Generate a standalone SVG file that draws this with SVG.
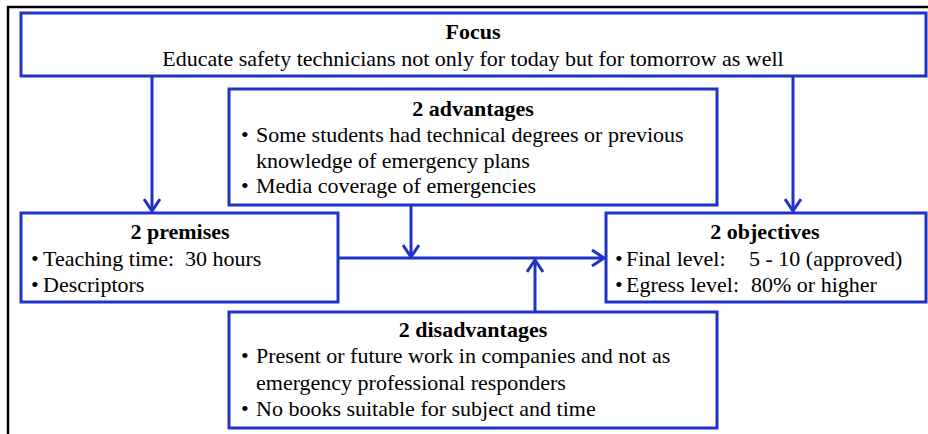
<svg xmlns="http://www.w3.org/2000/svg" width="928" height="434" viewBox="0 0 928 434">
  <style>
    .box { fill: #ffffff; stroke: #1f33c9; stroke-width: 3; }
    .conn { fill: none; stroke: #1f33c9; stroke-width: 3; }
    text { font-family: "Liberation Serif", "Times New Roman", serif; font-size: 22px; fill: #000000; }
    .title { font-weight: bold; text-anchor: middle; }
    .center { text-anchor: middle; }
  </style>
  <defs>
    <marker id="arrow" viewBox="0 0 14 18" refX="13" refY="9" markerWidth="14" markerHeight="18" markerUnits="userSpaceOnUse" orient="auto">
      <path d="M1,1 L13,9 L1,17" fill="none" stroke="#1f33c9" stroke-width="3"/>
    </marker>
  </defs>

  <rect width="928" height="434" fill="#ffffff"/>
  <!-- outer frame -->
  <rect x="8" y="7" width="940" height="450" fill="none" stroke="#000000" stroke-width="2.5"/>

  <g id="connectors">
    <line class="conn" x1="152" y1="76" x2="152" y2="211" marker-end="url(#arrow)"/>
    <line class="conn" x1="793" y1="76" x2="793" y2="211" marker-end="url(#arrow)"/>
    <line class="conn" x1="338" y1="258" x2="604" y2="258" marker-end="url(#arrow)"/>
    <line class="conn" x1="411" y1="205" x2="411" y2="257" marker-end="url(#arrow)"/>
    <line class="conn" x1="535" y1="312" x2="535" y2="260" marker-end="url(#arrow)"/>
  </g>

  <g id="focus">
    <rect class="box" x="21" y="13" width="905" height="63"/>
    <text class="title" x="473" y="39">Focus</text>
    <text class="center" x="473" y="66">Educate safety technicians not only for today but for tomorrow as well</text>
  </g>

  <g id="advantages">
    <rect class="box" x="229" y="89" width="488" height="116"/>
    <text class="title" x="473" y="116">2 advantages</text>
    <text x="241" y="142">•</text>
    <text x="256" y="142">Some students had technical degrees or previous</text>
    <text x="256" y="168">knowledge of emergency plans</text>
    <text x="241" y="193">•</text>
    <text x="256" y="193">Media coverage of emergencies</text>
  </g>

  <g id="premises">
    <rect class="box" x="21" y="213" width="317" height="89"/>
    <text class="title" x="180" y="239">2 premises</text>
    <text x="31" y="266">•</text>
    <text x="43" y="266">Teaching time:</text>
    <text x="185" y="266">30 hours</text>
    <text x="31" y="292">•</text>
    <text x="43" y="292">Descriptors</text>
  </g>

  <g id="objectives">
    <rect class="box" x="606" y="213" width="320" height="89"/>
    <text class="title" x="765" y="239">2 objectives</text>
    <text x="615" y="266">•</text>
    <text x="626" y="266">Final level:</text>
    <text x="749" y="266">5 - 10 (approved)</text>
    <text x="615" y="292">•</text>
    <text x="626" y="292">Egress level:</text>
    <text x="751" y="292">80% or higher</text>
  </g>

  <g id="disadvantages">
    <rect class="box" x="229" y="312" width="488" height="116"/>
    <text class="title" x="473" y="337">2 disadvantages</text>
    <text x="241" y="363">•</text>
    <text x="256" y="363">Present or future work in companies and not as</text>
    <text x="256" y="390">emergency professional responders</text>
    <text x="241" y="416">•</text>
    <text x="256" y="416">No books suitable for subject and time</text>
  </g>
</svg>
